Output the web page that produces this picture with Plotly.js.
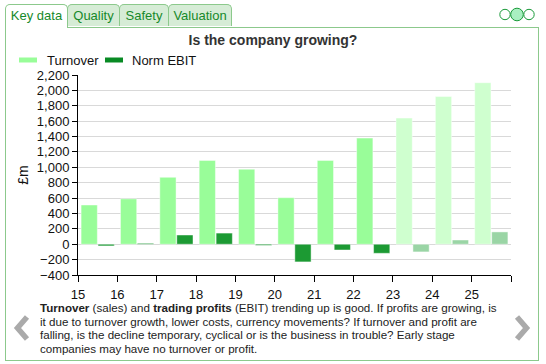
<!DOCTYPE html>
<html>
<head>
<meta charset="utf-8">
<script src="https://cdn.plot.ly/plotly-3.0.1.min.js"></script>
<style>
  html, body { margin:0; padding:0; background:#fff; font-family: "Liberation Sans", Arial, sans-serif; }
  #wrap { position:relative; width:546px; height:364px; overflow:hidden; }
  #chart { position:absolute; left:0; top:0; width:546px; height:364px; }
  .tab { position:absolute; top:4px; height:22px; box-sizing:border-box; border:1px solid #8cc98c; border-bottom:none;
         border-radius:5px 5px 0 0; background:#d6ecd6; color:#16892a; font-size:13px; line-height:22px; text-align:center; }
  .tab.active { background:#fff; height:24px; z-index:3; }
  #panel { position:absolute; left:5px; top:27px; width:534px; height:334px; box-sizing:border-box; border:1px solid #8cc98c; }
  #desc { position:absolute; left:40px; top:301px; width:462px; font-size:11.6px; line-height:13.7px; color:#222; }
  svg.deco { position:absolute; left:0; top:0; }
</style>
</head>
<body>
<div id="wrap">
  <div id="panel"></div>
  <div class="tab active" style="left:5px;width:63px;">Key data</div>
  <div class="tab" style="left:67px;width:53px;">Quality</div>
  <div class="tab" style="left:119px;width:50px;">Safety</div>
  <div class="tab" style="left:168px;width:64px;">Valuation</div>
  <div id="chart"></div>
  <svg class="deco" width="546" height="364">
    <circle cx="505" cy="14.5" r="5.2" fill="#fff" stroke="#1a9a3a" stroke-width="1"/>
    <circle cx="517" cy="14.5" r="6.3" fill="#a9efc1" stroke="#1a9a3a" stroke-width="1"/>
    <circle cx="529" cy="14.5" r="5.2" fill="#fff" stroke="#1a9a3a" stroke-width="1"/>
    <polyline points="27,317 17.5,328 27,339" fill="none" stroke="#aaaaaa" stroke-width="5.5"/>
    <polyline points="517,317 526.5,328 517,339" fill="none" stroke="#aaaaaa" stroke-width="5.5"/>
  </svg>
  <div id="desc"><b>Turnover</b> (sales) and <b>trading profits</b> (EBIT) trending up is good. If profits are growing, is it due to turnover growth, lower costs, currency movements? If turnover and profit are falling, is the decline temporary, cyclical or is the business in trouble? Early stage companies may have no turnover or profit.</div>
</div>
<script>
const years = [15, 16, 17, 18, 19, 20, 21, 22, 23, 24, 25];
const turnover = [510, 590, 870, 1090, 975, 605, 1090, 1380, 1640, 1920, 2100];
const normEbit = [-22, 12, 120, 145, -15, -230, -75, -118, -100, 55, 160];
const forecast = [false, false, false, false, false, false, false, false, true, true, true];
const yTicks = [-400, -200, 0, 200, 400, 600, 800, 1000, 1200, 1400, 1600, 1800, 2000, 2200];

const xPos = years.map(y => y + 0.5);
const turnColors = forecast.map(f => f ? '#cfffcf' : '#99fd99');
const ebitColors = forecast.map(f => f ? '#9ad5a5' : '#1c9a33');
const xTickVals = years.concat([years[years.length - 1] + 1]);
const xTickText = years.map(String).concat(['']);

const traces = [
  { type:'bar', name:'Turnover', x:xPos, y:turnover,
    marker:{ color:turnColors, line:{ color:'rgba(255,255,255,0.45)', width:1 } }, hoverinfo:'skip' },
  { type:'bar', name:'Norm EBIT', x:xPos, y:normEbit,
    marker:{ color:ebitColors, line:{ color:'rgba(255,255,255,0.45)', width:1 } }, hoverinfo:'skip' }
];

const fnt = { family:'"Liberation Sans", Arial, sans-serif', size:13, color:'#111' };
const layout = {
  width:546, height:364,
  margin:{ l:78, r:35, t:75, b:89 },
  paper_bgcolor:'rgba(0,0,0,0)', plot_bgcolor:'rgba(0,0,0,0)',
  barmode:'group', bargap:0.14, bargroupgap:0.04,
  showlegend:false,
  font:fnt,
  title:{ text:'<b>Is the company growing?</b>', x:0.5, xref:'container', xanchor:'center',
          y:1 - 40/364, yref:'container', yanchor:'middle',
          font:{ family:'"Liberation Sans", Arial, sans-serif', size:14, color:'#333' } },
  xaxis:{ range:[15, 26], tickvals:xTickVals, ticktext:xTickText, ticks:'outside', ticklen:6,
          ticklabelstandoff:1,
          tickcolor:'#000', showline:true, linecolor:'#000', linewidth:1, showgrid:false, zeroline:false,
          tickfont:fnt, fixedrange:true },
  yaxis:{ range:[-400, 2200], tickvals:yTicks, tickformat:',d', ticks:'outside', ticklen:5,
          tickcolor:'#000', showline:true, linecolor:'#000', linewidth:1, showgrid:true, gridcolor:'#d9d9d9',
          zeroline:false, tickfont:fnt,
          title:{ text:'£m', standoff:4, font:{ family:'"Liberation Sans", Arial, sans-serif', size:14, color:'#111' } },
          fixedrange:true },
  shapes:[
    { type:'rect', xref:'paper', yref:'paper', x0:(19-78)/433, x1:(37-78)/433, y0:(275-62.5)/200, y1:(275-57.5)/200,
      fillcolor:'#99fd99', line:{ width:0 } },
    { type:'rect', xref:'paper', yref:'paper', x0:(105-78)/433, x1:(123-78)/433, y0:(275-62.5)/200, y1:(275-57.5)/200,
      fillcolor:'#088a24', line:{ width:0 } }
  ],
  annotations:[
    { text:'Turnover', xref:'paper', yref:'paper', x:(45-78)/433, y:(275-61)/200, xanchor:'left', yanchor:'middle',
      showarrow:false, font:fnt },
    { text:'Norm EBIT', xref:'paper', yref:'paper', x:(130-78)/433, y:(275-61)/200, xanchor:'left', yanchor:'middle',
      showarrow:false, font:fnt }
  ]
};
Plotly.newPlot('chart', traces, layout, { displayModeBar:false, staticPlot:true });
</script>
</body>
</html>
